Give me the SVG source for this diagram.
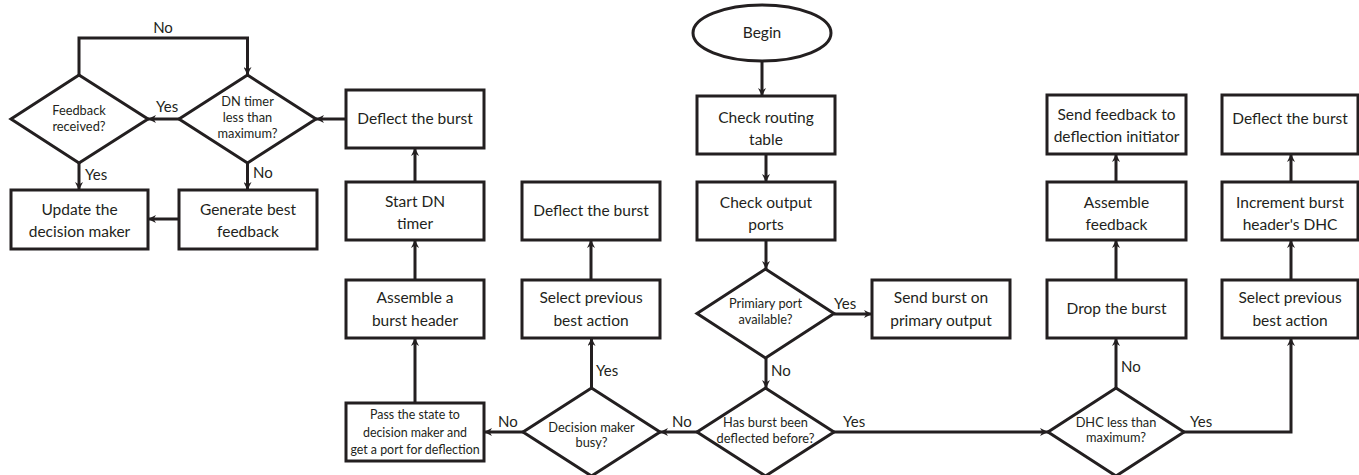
<svg xmlns="http://www.w3.org/2000/svg" width="1359" height="475" viewBox="0 0 1359 475">
<style>
.n{fill:#fff;stroke:#231f20;stroke-width:3}
.c{fill:none;stroke:#231f20;stroke-width:3;marker-end:url(#ah)}
text{font-family:Lato,"Open Sans","Liberation Sans",sans-serif;fill:#231f20}
.t{font-size:15.5px;text-anchor:middle}
.s{font-size:12.8px;text-anchor:middle}
.p{font-size:12.4px;text-anchor:middle}
.h{font-size:12.8px;text-anchor:middle}
.l{font-size:15px}
</style>
<defs>
<marker id="ah" viewBox="0 0 10 10" refX="10" refY="5" markerWidth="9" markerHeight="8" markerUnits="userSpaceOnUse" orient="auto">
<path d="M0,0 L10,5 L0,10 L3,5 z" fill="#231f20"/>
</marker>
</defs>
<rect width="1359" height="475" fill="#fff"/>
<g id="connectors">
<path class="c" d="M762,61 V96"/>
<path class="c" d="M766,154 V182"/>
<path class="c" d="M766,240 V269"/>
<path class="c" d="M834,314 H872"/>
<path class="c" d="M766,358 V388"/>
<path class="c" d="M834,432 H1048"/>
<path class="c" d="M697,432 H660"/>
<path class="c" d="M591.5,388 V338"/>
<path class="c" d="M591,280 V240"/>
<path class="c" d="M523,432 H484"/>
<path class="c" d="M415,403 V338"/>
<path class="c" d="M415,280 V240"/>
<path class="c" d="M415,182 V148"/>
<path class="c" d="M346,119 H316"/>
<path class="c" d="M179,119 H148"/>
<path class="c" d="M247.5,163 V190"/>
<path class="c" d="M79,163 V190"/>
<path class="c" d="M179,219 H148"/>
<path class="c" d="M79,75 V38 H247.5 V75"/>
<path class="c" d="M1116,388 V338"/>
<path class="c" d="M1116,280 V240"/>
<path class="c" d="M1116,182 V154"/>
<path class="c" d="M1184,432 H1291 V338"/>
<path class="c" d="M1291,280 V240"/>
<path class="c" d="M1291,182 V154"/>
<text class="l" x="163" y="33" text-anchor="middle">No</text>
<text class="l" x="156" y="112">Yes</text>
<text class="l" x="85" y="180">Yes</text>
<text class="l" x="253" y="178">No</text>
<text class="l" x="596" y="376">Yes</text>
<text class="l" x="498" y="427">No</text>
<text class="l" x="834" y="309">Yes</text>
<text class="l" x="771" y="376">No</text>
<text class="l" x="672" y="427">No</text>
<text class="l" x="843" y="427">Yes</text>
<text class="l" x="1121" y="372">No</text>
<text class="l" x="1190" y="427">Yes</text>
</g>
<g id="fb_received">
<polygon class="n" points="11,119 79,75 148,119 79,163"/>
<text class="s" x="79" y="115">Feedback</text>
<text class="s" x="79" y="131">received?</text>
</g>
<g id="dn_timer">
<polygon class="n" points="179,119 247.5,75 316,119 247.5,163"/>
<text class="s" x="247.5" y="106">DN timer</text>
<text class="s" x="247.5" y="122">less than</text>
<text class="s" x="247.5" y="138">maximum?</text>
</g>
<g id="update">
<rect class="n" x="11" y="190" width="137" height="59"/>
<text class="t" x="79.5" y="215">Update the</text>
<text class="t" x="79.5" y="237">decision maker</text>
</g>
<g id="generate">
<rect class="n" x="179" y="190" width="138" height="59"/>
<text class="t" x="248" y="215">Generate best</text>
<text class="t" x="248" y="237">feedback</text>
</g>
<g id="deflect1">
<rect class="n" x="346" y="90" width="138" height="58"/>
<text class="t" x="415" y="124">Deflect the burst</text>
</g>
<g id="start_dn">
<rect class="n" x="346" y="182" width="138" height="58"/>
<text class="t" x="415" y="207">Start DN</text>
<text class="t" x="415" y="229">timer</text>
</g>
<g id="assemble_header">
<rect class="n" x="346" y="280" width="138" height="58"/>
<text class="t" x="415" y="303">Assemble a</text>
<text class="t" x="415" y="326">burst header</text>
</g>
<g id="pass_state">
<rect class="n" x="346" y="403" width="138" height="58"/>
<text class="p" x="415" y="419">Pass the state to</text>
<text class="p" x="415" y="437">decision maker and</text>
<text class="p" x="415" y="454">get a port for deflection</text>
</g>
<g id="decision_busy">
<polygon class="n" points="523,432 591.5,388 660,432 591.5,476"/>
<text class="s" x="591.5" y="432">Decision maker</text>
<text class="s" x="591.5" y="447">busy?</text>
</g>
<g id="select_prev1">
<rect class="n" x="522" y="280" width="138" height="58"/>
<text class="t" x="591" y="303">Select previous</text>
<text class="t" x="591" y="326">best action</text>
</g>
<g id="deflect2">
<rect class="n" x="522" y="182" width="138" height="58"/>
<text class="t" x="591" y="216">Deflect the burst</text>
</g>
<g id="begin">
<ellipse class="n" cx="762" cy="33" rx="69" ry="28"/>
<text class="t" x="762" y="38">Begin</text>
</g>
<g id="check_routing">
<rect class="n" x="697" y="96" width="138" height="58"/>
<text class="t" x="766" y="123">Check routing</text>
<text class="t" x="766" y="145">table</text>
</g>
<g id="check_output">
<rect class="n" x="697" y="182" width="138" height="58"/>
<text class="t" x="766" y="208">Check output</text>
<text class="t" x="766" y="230">ports</text>
</g>
<g id="primary_avail">
<polygon class="n" points="697,313.5 765.5,269 834,313.5 765.5,358"/>
<text class="s" x="765.5" y="308">Primiary port</text>
<text class="s" x="765.5" y="324">available?</text>
</g>
<g id="has_burst">
<polygon class="n" points="697,432 765.5,388 834,432 765.5,476"/>
<text class="h" x="765.5" y="427">Has burst been</text>
<text class="h" x="765.5" y="443">deflected before?</text>
</g>
<g id="send_burst">
<rect class="n" x="872" y="280" width="138" height="58"/>
<text class="t" x="941" y="303">Send burst on</text>
<text class="t" x="941" y="326">primary output</text>
</g>
<g id="dhc_less">
<polygon class="n" points="1048,432 1116,388 1184,432 1116,476"/>
<text class="s" x="1116" y="427">DHC less than</text>
<text class="s" x="1116" y="442">maximum?</text>
</g>
<g id="drop">
<rect class="n" x="1047" y="280" width="139" height="58"/>
<text class="t" x="1116.5" y="314">Drop the burst</text>
</g>
<g id="assemble_feedback">
<rect class="n" x="1047" y="182" width="139" height="58"/>
<text class="t" x="1116.5" y="208">Assemble</text>
<text class="t" x="1116.5" y="230">feedback</text>
</g>
<g id="send_feedback">
<rect class="n" x="1047" y="95" width="139" height="59"/>
<text class="t" x="1116.5" y="120">Send feedback to</text>
<text class="t" x="1116.5" y="142">deflection initiator</text>
</g>
<g id="select_prev2">
<rect class="n" x="1222" y="280" width="136" height="58"/>
<text class="t" x="1290" y="303">Select previous</text>
<text class="t" x="1290" y="326">best action</text>
</g>
<g id="increment">
<rect class="n" x="1222" y="182" width="136" height="58"/>
<text class="t" x="1290" y="208">Increment burst</text>
<text class="t" x="1290" y="230">header's DHC</text>
</g>
<g id="deflect3">
<rect class="n" x="1222" y="95" width="136" height="59"/>
<text class="t" x="1290" y="124">Deflect the burst</text>
</g>
</svg>
